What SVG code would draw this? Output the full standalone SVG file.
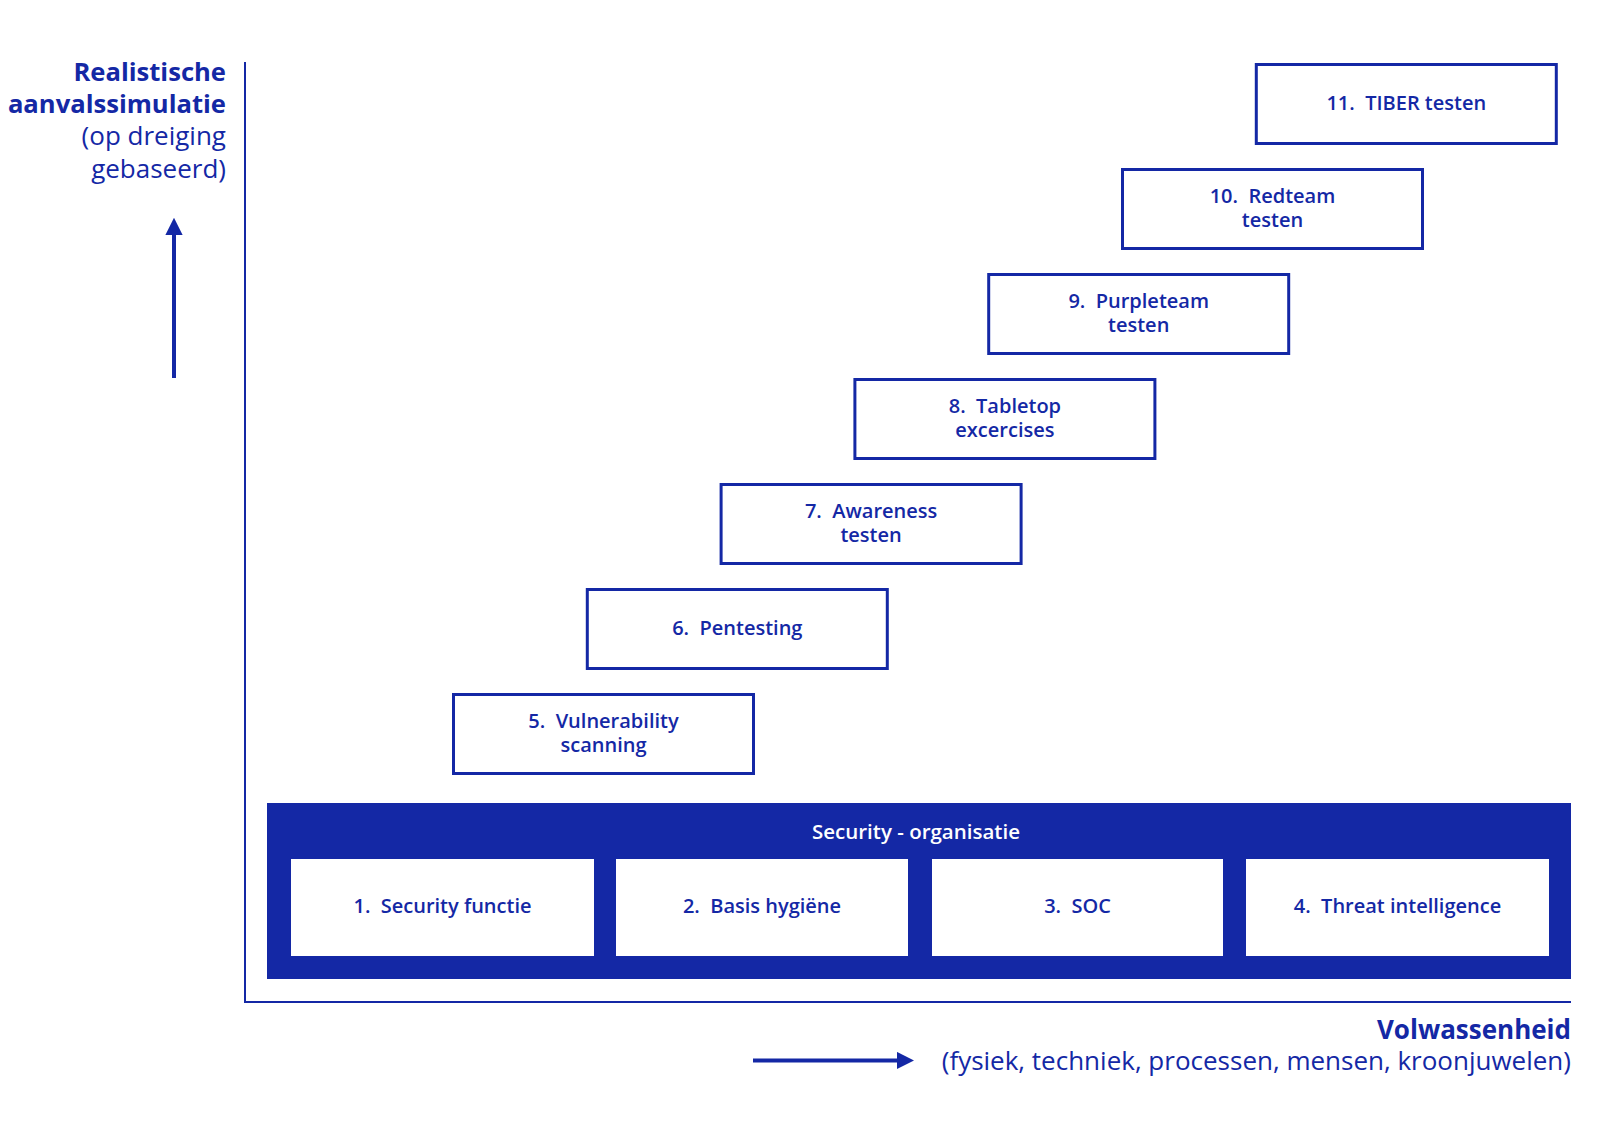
<svg xmlns="http://www.w3.org/2000/svg" width="1600" height="1130" viewBox="0 0 1600 1130">
  <style>
    .t { font-family: "Open Sans", "Noto Sans", "Liberation Sans", sans-serif; fill: #1428A5; }
    .lbl { font-size: 20px; font-weight: 600; text-anchor: middle; }
    .ax { font-size: 26px; text-anchor: end; }
    .b { font-weight: 700; font-size: 25.6px; }
    .step { fill: #ffffff; stroke: #1428A5; stroke-width: 3; }
    .inner { fill: #ffffff; }
    .line { stroke: #1428A5; fill: none; }
  </style>
  <defs>
    <marker id="ah" viewBox="0 0 10 10" refX="0" refY="5" markerWidth="4.3" markerHeight="4.5" markerUnits="strokeWidth" orient="auto">
      <path d="M0,0 L10,5 L0,10 Z" fill="#1428A5"/>
    </marker>
  </defs>
  <rect width="1600" height="1130" fill="#ffffff"/>

  <g id="axes">
    <line class="line" x1="245" y1="62" x2="245" y2="1002" stroke-width="2"/>
    <line class="line" x1="244" y1="1002" x2="1571" y2="1002" stroke-width="2"/>
    <line class="line" x1="174" y1="378" x2="174" y2="235" stroke-width="4" marker-end="url(#ah)"/>
    <line class="line" x1="753" y1="1060.5" x2="897" y2="1060.5" stroke-width="4" marker-end="url(#ah)"/>
  </g>

  <g id="y-label">
    <text class="t ax b" x="226" y="81">Realistische</text>
    <text class="t ax b" x="226" y="113">aanvalssimulatie</text>
    <text class="t ax" x="226" y="145">(op dreiging</text>
    <text class="t ax" x="226" y="178">gebaseerd)</text>
  </g>

  <g id="x-label">
    <text class="t ax b" x="1571" y="1039" style="font-size:26px">Volwassenheid</text>
    <text class="t ax" x="1571" y="1070" font-size="26.7">(fysiek, techniek, processen, mensen, kroonjuwelen)</text>
  </g>

  <g id="security-organisatie">
    <rect x="267" y="803" width="1304" height="176" fill="#1428A5"/>
    <text class="t lbl" x="916" y="839" style="fill:#ffffff;font-size:20.5px">Security - organisatie</text>
  </g>

  <g id="node-1">
    <rect class="inner" x="291" y="859" width="303" height="97"/>
    <text class="t lbl" x="442.5" y="913">1.&#160; Security functie</text>
  </g>
  <g id="node-2">
    <rect class="inner" x="616" y="859" width="292" height="97"/>
    <text class="t lbl" x="762" y="913">2.&#160; Basis hygiëne</text>
  </g>
  <g id="node-3">
    <rect class="inner" x="932" y="859" width="291" height="97"/>
    <text class="t lbl" x="1077.5" y="913">3.&#160; SOC</text>
  </g>
  <g id="node-4">
    <rect class="inner" x="1246" y="859" width="303" height="97"/>
    <text class="t lbl" x="1397.5" y="913">4.&#160; Threat intelligence</text>
  </g>

  <g id="node-5">
    <rect class="step" x="453.5" y="694.5" width="300" height="79"/>
    <text class="t lbl" x="603.5" y="728">5.&#160; Vulnerability</text>
    <text class="t lbl" x="603.5" y="752">scanning</text>
  </g>
  <g id="node-6">
    <rect class="step" x="587.3" y="589.5" width="300" height="79"/>
    <text class="t lbl" x="737.3" y="635">6.&#160; Pentesting</text>
  </g>
  <g id="node-7">
    <rect class="step" x="721.1" y="484.5" width="300" height="79"/>
    <text class="t lbl" x="871.1" y="518">7.&#160; Awareness</text>
    <text class="t lbl" x="871.1" y="542">testen</text>
  </g>
  <g id="node-8">
    <rect class="step" x="854.9" y="379.5" width="300" height="79"/>
    <text class="t lbl" x="1004.9" y="413">8.&#160; Tabletop</text>
    <text class="t lbl" x="1004.9" y="437">excercises</text>
  </g>
  <g id="node-9">
    <rect class="step" x="988.7" y="274.5" width="300" height="79"/>
    <text class="t lbl" x="1138.7" y="308">9.&#160; Purpleteam</text>
    <text class="t lbl" x="1138.7" y="332">testen</text>
  </g>
  <g id="node-10">
    <rect class="step" x="1122.5" y="169.5" width="300" height="79"/>
    <text class="t lbl" x="1272.5" y="203">10.&#160; Redteam</text>
    <text class="t lbl" x="1272.5" y="227">testen</text>
  </g>
  <g id="node-11">
    <rect class="step" x="1256.3" y="64.5" width="300" height="79"/>
    <text class="t lbl" x="1406.3" y="110">11.&#160; TIBER testen</text>
  </g>
</svg>
